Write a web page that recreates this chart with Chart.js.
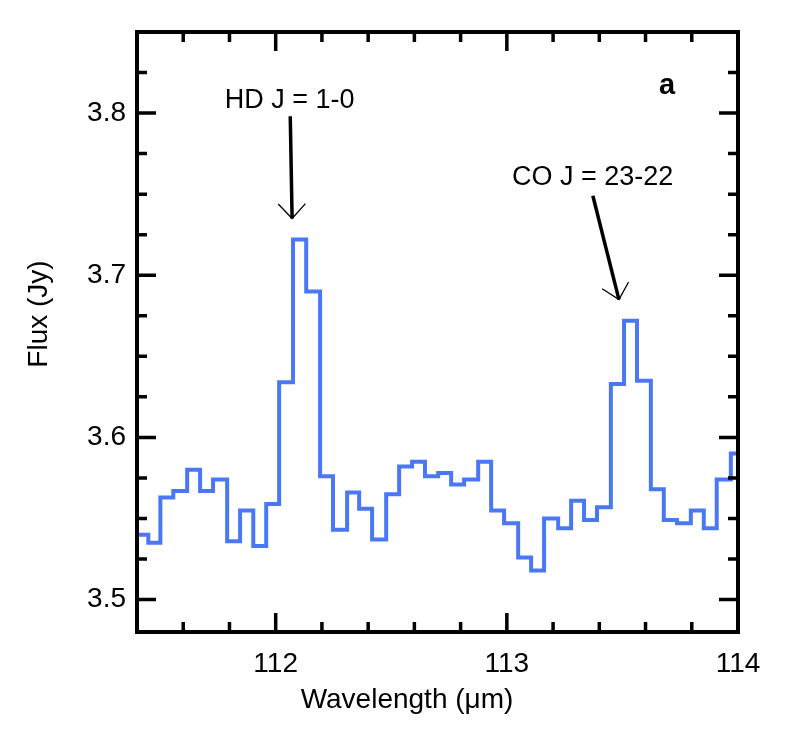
<!DOCTYPE html>
<html>
<head>
<meta charset="utf-8">
<script src="https://cdn.jsdelivr.net/npm/chart.js@4.4.1/dist/chart.umd.min.js"></script>
<style>
  html, body { margin: 0; padding: 0; background: #fff; }
  #wrap { position: relative; width: 802px; height: 740px; }
</style>
</head>
<body>
<div id="wrap"><canvas id="chart"></canvas></div>
<script>
// spectrum bins: left edge of each bin (µm), last entry is the right edge of the final bin
var binEdges = [111.390, 111.449, 111.501, 111.557, 111.617, 111.673, 111.729, 111.790, 111.846, 111.903,
    111.959, 112.015, 112.075, 112.132, 112.192, 112.248, 112.309, 112.361, 112.417, 112.478,
    112.534, 112.590, 112.646, 112.703, 112.759, 112.815, 112.876, 112.932, 112.988, 113.049,
    113.105, 113.161, 113.222, 113.278, 113.334, 113.390, 113.450, 113.507, 113.563, 113.623,
    113.679, 113.736, 113.796, 113.852, 113.908, 113.969, 114.028];
// flux per bin (Jy)
var fluxValues = [3.540, 3.535, 3.563, 3.567, 3.580, 3.567, 3.574, 3.536, 3.555, 3.533,
    3.559, 3.634, 3.722, 3.690, 3.576, 3.543, 3.566, 3.556, 3.537, 3.565,
    3.582, 3.585, 3.576, 3.578, 3.571, 3.574, 3.585, 3.555, 3.547, 3.526,
    3.518, 3.550, 3.544, 3.561, 3.549, 3.557, 3.633, 3.672, 3.635, 3.568,
    3.549, 3.547, 3.555, 3.544, 3.574, 3.590];

// axes
var xRange = [111.4, 114];
var yRange = [3.48, 3.85];
var xMajorTicks = [112, 113, 114];
var xMinorTicks = [111.6, 111.8, 112.2, 112.4, 112.6, 112.8, 113.2, 113.4, 113.6, 113.8];
var yMajorTicks = [3.5, 3.6, 3.7, 3.8];
var yMinorTicks = [3.525, 3.55, 3.575, 3.625, 3.65, 3.675, 3.725, 3.75, 3.775, 3.825];

// line labels: text, text position, arrow tail, arrow tip (data units)
var lineLabels = ['HD J = 1-0', 'CO J = 23-22'];
var labelPos = [[112.06, 3.808], [113.371, 3.760]];
var arrowTail = [[112.063, 3.798], [113.372, 3.749]];
var arrowTip = [[112.071, 3.735], [113.485, 3.685]];

var FONT = '"Liberation Sans", Arial, Helvetica, sans-serif';

//build step points
var points = [];
binEdges.forEach(function (x, i) {
    var v = i < fluxValues.length ? fluxValues[i] : fluxValues[fluxValues.length - 1];
    points.push({ x: x, y: v });
});

//frame, inward ticks, titles and annotations
var decorPlugin = {
    id: 'decor',
    afterDraw: function (chart) {
        var ctx = chart.ctx;
        var a = chart.chartArea;
        var xs = chart.scales.x;
        var ys = chart.scales.y;
        ctx.save();
        ctx.strokeStyle = '#000';
        ctx.lineCap = 'butt';

        // ticks
        ctx.lineWidth = 3.5;
        function xTick(v, len) {
            var px = xs.getPixelForValue(v);
            ctx.beginPath();
            ctx.moveTo(px, a.bottom); ctx.lineTo(px, a.bottom - len);
            ctx.moveTo(px, a.top); ctx.lineTo(px, a.top + len);
            ctx.stroke();
        }
        function yTick(v, len) {
            var py = ys.getPixelForValue(v);
            ctx.beginPath();
            ctx.moveTo(a.left, py); ctx.lineTo(a.left + len, py);
            ctx.moveTo(a.right, py); ctx.lineTo(a.right - len, py);
            ctx.stroke();
        }
        xMajorTicks.forEach(function (v) { xTick(v, 19); });
        xMinorTicks.forEach(function (v) { xTick(v, 10); });
        yMajorTicks.forEach(function (v) { yTick(v, 19); });
        yMinorTicks.forEach(function (v) { yTick(v, 10); });

        // frame
        ctx.lineWidth = 4;
        ctx.strokeRect(a.left, a.top, a.right - a.left, a.bottom - a.top);

        // axis titles
        ctx.fillStyle = '#000';
        ctx.font = '28px ' + FONT;
        ctx.textAlign = 'center';
        ctx.textBaseline = 'middle';
        ctx.fillText('Wavelength (\u03bcm)', 407, 700);
        ctx.save();
        ctx.translate(39, 314);
        ctx.rotate(-Math.PI / 2);
        ctx.fillText('Flux (Jy)', 0, 0);
        ctx.restore();

        // panel letter
        ctx.font = 'bold 29px ' + FONT;
        ctx.fillText('a', 667, 86);

        // line labels and arrows
        ctx.font = '27px ' + FONT;
        lineLabels.forEach(function (txt, i) {
            ctx.fillText(txt, xs.getPixelForValue(labelPos[i][0]), ys.getPixelForValue(labelPos[i][1]));
            var x0 = xs.getPixelForValue(arrowTail[i][0]);
            var y0 = ys.getPixelForValue(arrowTail[i][1]);
            var x1 = xs.getPixelForValue(arrowTip[i][0]);
            var y1 = ys.getPixelForValue(arrowTip[i][1]);
            ctx.lineWidth = 3.5;
            ctx.beginPath();
            ctx.moveTo(x0, y0); ctx.lineTo(x1, y1);
            ctx.stroke();
            var ang = Math.atan2(y1 - y0, x1 - x0);
            var head = 20, spread = Math.PI / 4.2;
            ctx.lineWidth = 1.3;
            ctx.beginPath();
            ctx.moveTo(x1 - head * Math.cos(ang - spread), y1 - head * Math.sin(ang - spread));
            ctx.lineTo(x1, y1);
            ctx.lineTo(x1 - head * Math.cos(ang + spread), y1 - head * Math.sin(ang + spread));
            ctx.stroke();
        });
        ctx.restore();
    }
};

var ctx = document.getElementById('chart');
var myChart = new Chart(ctx, {
    type: 'line',
    data: {
        datasets: [{
            label: 'Flux',
            data: points,
            stepped: 'before',
            borderColor: '#4a78f5',
            borderWidth: 4,
            pointRadius: 0,
            fill: false,
            clip: 0
        }]
    },
    options: {
        responsive: true,
        maintainAspectRatio: false,
        animation: false,
        layout: { padding: { top: 32, right: 64, left: 0, bottom: 0 } },
        plugins: {
            legend: { display: false },
            tooltip: { enabled: false },
            title: { display: false }
        },
        scales: {
            x: {
                type: 'linear',
                min: xRange[0],
                max: xRange[1],
                afterBuildTicks: function (scale) {
                    scale.ticks = xMajorTicks.map(function (v) { return { value: v }; });
                },
                afterFit: function (scale) { scale.height = 108; },
                grid: { display: false, drawTicks: false },
                border: { display: false },
                ticks: {
                    autoSkip: false,
                    maxRotation: 0,
                    padding: 15,
                    color: '#000',
                    font: { family: FONT, size: 28 },
                    callback: function (v) { return String(v); }
                }
            },
            y: {
                type: 'linear',
                min: yRange[0],
                max: yRange[1],
                afterBuildTicks: function (scale) {
                    scale.ticks = yMajorTicks.map(function (v) { return { value: v }; });
                },
                afterFit: function (scale) { scale.width = 137; },
                grid: { display: false, drawTicks: false },
                border: { display: false },
                ticks: {
                    autoSkip: false,
                    padding: 11,
                    color: '#000',
                    font: { family: FONT, size: 28 },
                    callback: function (v) { return Number(v).toFixed(1); }
                }
            }
        }
    },
    plugins: [decorPlugin]
});
</script>
</body>
</html>
